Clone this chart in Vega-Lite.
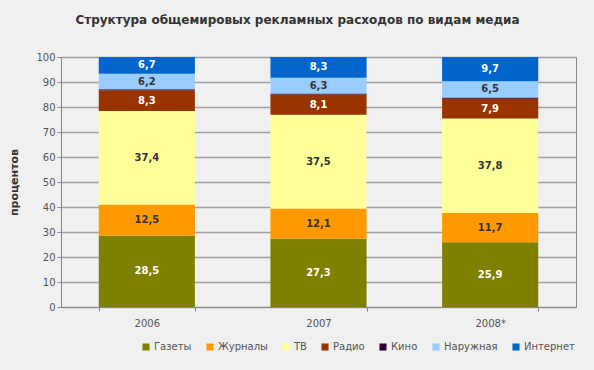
{
  "$schema": "https://vega.github.io/schema/vega-lite/v6.json",
  "width": 515,
  "height": 250,
  "autosize": {"type": "none"},
  "padding": {"left": 61, "top": 57, "right": 18, "bottom": 63},
  "background": "#f0f0f0",
  "title": {
    "text": "Структура общемировых рекламных расходов по видам медиа",
    "font": "DejaVu Sans",
    "fontSize": 12,
    "fontWeight": "bold",
    "color": "#333333",
    "anchor": "middle",
    "dx": -21,
    "offset": 25
  },
  "data": {
    "values": [
      {"year": "2006", "cat": "Газеты", "k": 1, "value": 28.5, "label": "28,5"},
      {"year": "2006", "cat": "Журналы", "k": 2, "value": 12.5, "label": "12,5"},
      {"year": "2006", "cat": "ТВ", "k": 3, "value": 37.4, "label": "37,4"},
      {"year": "2006", "cat": "Радио", "k": 4, "value": 8.3, "label": "8,3"},
      {"year": "2006", "cat": "Кино", "k": 5, "value": 0.4, "label": "0,4"},
      {"year": "2006", "cat": "Наружная", "k": 6, "value": 6.2, "label": "6,2"},
      {"year": "2006", "cat": "Интернет", "k": 7, "value": 6.7, "label": "6,7"},
      {"year": "2007", "cat": "Газеты", "k": 1, "value": 27.3, "label": "27,3"},
      {"year": "2007", "cat": "Журналы", "k": 2, "value": 12.1, "label": "12,1"},
      {"year": "2007", "cat": "ТВ", "k": 3, "value": 37.5, "label": "37,5"},
      {"year": "2007", "cat": "Радио", "k": 4, "value": 8.1, "label": "8,1"},
      {"year": "2007", "cat": "Кино", "k": 5, "value": 0.4, "label": "0,4"},
      {"year": "2007", "cat": "Наружная", "k": 6, "value": 6.3, "label": "6,3"},
      {"year": "2007", "cat": "Интернет", "k": 7, "value": 8.3, "label": "8,3"},
      {"year": "2008*", "cat": "Газеты", "k": 1, "value": 25.9, "label": "25,9"},
      {"year": "2008*", "cat": "Журналы", "k": 2, "value": 11.7, "label": "11,7"},
      {"year": "2008*", "cat": "ТВ", "k": 3, "value": 37.8, "label": "37,8"},
      {"year": "2008*", "cat": "Радио", "k": 4, "value": 7.9, "label": "7,9"},
      {"year": "2008*", "cat": "Кино", "k": 5, "value": 0.5, "label": "0,5"},
      {"year": "2008*", "cat": "Наружная", "k": 6, "value": 6.5, "label": "6,5"},
      {"year": "2008*", "cat": "Интернет", "k": 7, "value": 9.7, "label": "9,7"}
    ]
  },
  "encoding": {
    "x": {
      "field": "year",
      "type": "nominal",
      "scale": {"paddingInner": 0.44, "paddingOuter": 0.22},
      "axis": {
        "title": null,
        "labelAngle": 0,
        "labelFont": "DejaVu Sans",
        "labelFontSize": 10,
        "labelColor": "#555555",
        "labelPadding": 7,
        "domainColor": "#888888",
        "tickColor": "#888888",
        "tickBand": "extent",
        "tickSize": 4,
        "grid": false
      }
    }
  },
  "layer": [
    {
      "mark": {"type": "bar"},
      "encoding": {
        "y": {
          "field": "value",
          "type": "quantitative",
          "stack": "zero",
          "scale": {"domain": [0, 100], "nice": false},
          "axis": {
            "title": "процентов",
            "titleFont": "DejaVu Sans",
            "titleFontSize": 11,
            "titleFontWeight": "bold",
            "titleColor": "#333333",
            "titlePadding": 16,
            "values": [0, 10, 20, 30, 40, 50, 60, 70, 80, 90, 100],
            "labelFont": "DejaVu Sans",
            "labelFontSize": 10,
            "labelColor": "#555555",
            "domainColor": "#888888",
            "tickColor": "#888888",
            "tickSize": 4,
            "gridColor": "#a0a0a0",
            "gridWidth": 1.3
          }
        },
        "order": {"field": "k", "type": "quantitative"},
        "color": {
          "field": "cat",
          "type": "nominal",
          "scale": {
            "domain": ["Газеты", "Журналы", "ТВ", "Радио", "Кино", "Наружная", "Интернет"],
            "range": ["#808000", "#ff9900", "#ffff99", "#993300", "#330033", "#99ccff", "#0066cc"]
          },
          "legend": {
            "title": null,
            "orient": "none",
            "direction": "horizontal",
            "legendX": 80,
            "legendY": 285,
            "symbolType": "square",
            "symbolSize": 50,
            "symbolStrokeWidth": 0,
            "labelFont": "DejaVu Sans",
            "labelFontSize": 10,
            "labelColor": "#555555",
            "columnPadding": 13,
            "labelOffset": 3
          }
        }
      }
    },
    {
      "transform": [
        {"stack": "value", "groupby": ["year"], "sort": [{"field": "k", "order": "ascending"}], "as": ["y0", "y1"]},
        {"filter": "datum.cat !== 'Кино'"},
        {"fold": ["y0", "y1"], "as": ["edge", "pos"]}
      ],
      "mark": {"type": "text", "font": "DejaVu Sans", "fontSize": 10, "fontWeight": "bold"},
      "encoding": {
        "y": {
          "aggregate": "mean",
          "field": "pos",
          "type": "quantitative",
          "axis": {
            "title": "процентов",
            "titleFont": "DejaVu Sans",
            "titleFontSize": 11,
            "titleFontWeight": "bold",
            "titleColor": "#333333",
            "titlePadding": 16,
            "values": [0, 10, 20, 30, 40, 50, 60, 70, 80, 90, 100],
            "labelFont": "DejaVu Sans",
            "labelFontSize": 10,
            "labelColor": "#555555",
            "domainColor": "#888888",
            "tickColor": "#888888",
            "tickSize": 4,
            "gridColor": "#a0a0a0",
            "gridWidth": 1.3
          }
        },
        "detail": {"field": "cat"},
        "text": {"field": "label"},
        "color": {
          "condition": {"test": "datum.cat === 'Газеты' || datum.cat === 'Радио' || datum.cat === 'Интернет'", "value": "#ffffff"},
          "value": "#333333"
        }
      }
    }
  ],
  "config": {
    "view": {"stroke": "#888888"}
  }
}
